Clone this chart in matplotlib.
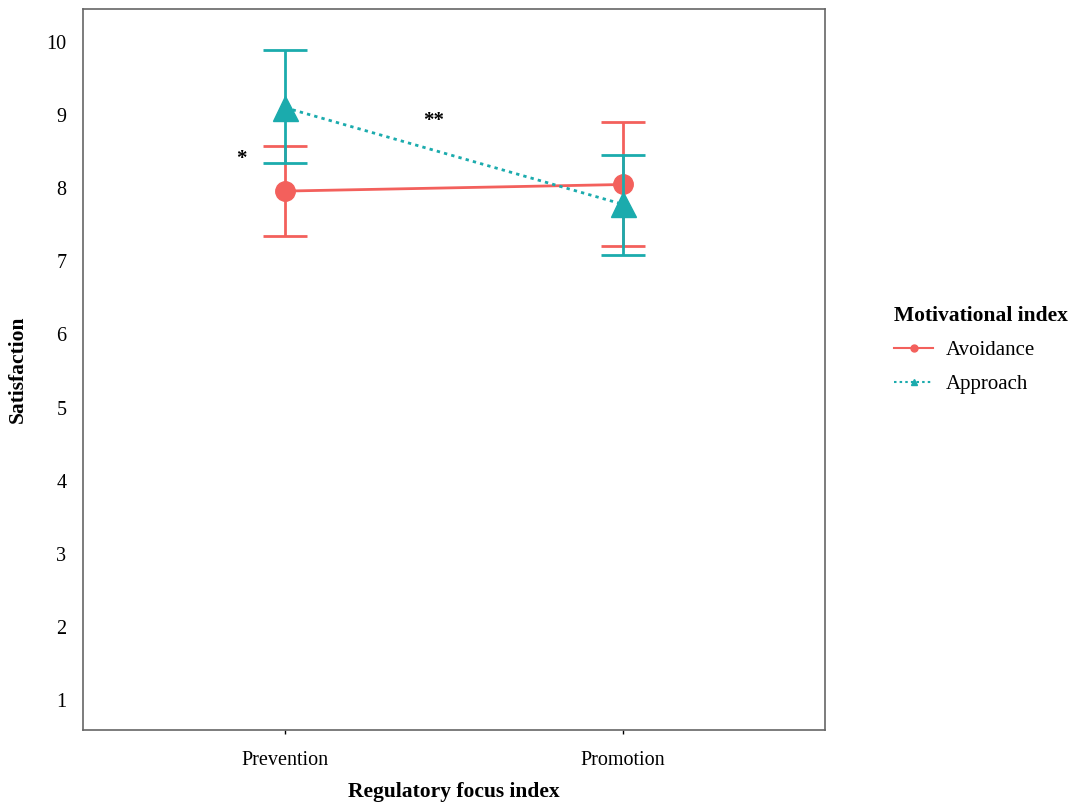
import matplotlib
matplotlib.use('Agg')
import matplotlib.pyplot as plt
from matplotlib.lines import Line2D

plt.rcParams['font.family'] = ['Liberation Serif', 'DejaVu Serif']

# dados
categories = ['Prevention', 'Promotion']
avoid_mean = [7.96, 8.05]
avoid_low = [7.34, 7.21]
avoid_high = [8.58, 8.90]
approach_mean = [9.10, 7.78]
approach_low = [8.34, 7.09]
approach_high = [9.89, 8.46]

RED = '#F3605C'
TEAL = '#1BABAD'

x = list(range(len(categories)))

fig = plt.figure(figsize=(10.72, 8.05), dpi=100)
ax = fig.add_axes([83/1072, 1-730/805, (825-83)/1072, (730-9)/805])

# avoidance (linha sólida, círculos)
err_av = [[m - l for m, l in zip(avoid_mean, avoid_low)],
          [h - m for m, h in zip(avoid_mean, avoid_high)]]
ax.errorbar(x, avoid_mean, yerr=err_av, color=RED, lw=2, marker='o', ms=14,
            capsize=16, capthick=2, elinewidth=2, zorder=3)

# approach (linha pontilhada, triângulos)
err_ap = [[m - l for m, l in zip(approach_mean, approach_low)],
          [h - m for m, h in zip(approach_mean, approach_high)]]
ax.errorbar(x, approach_mean, yerr=err_ap, color=TEAL, lw=2, marker='^', ms=18,
            ls=(0, (1.2, 1.5)), capsize=16, capthick=2, elinewidth=2, zorder=4)

# asteriscos de significância
ax.text(-0.13, 8.4, '*', fontsize=15, ha='center', va='center', fontweight='bold')
ax.text(0.44, 8.92, '**', fontsize=15, ha='center', va='center', fontweight='bold')

ax.set_xlim(-0.6, 1.6)
ax.set_ylim(0.59, 10.45)
ax.set_xticks(x)
ax.set_xticklabels(categories, fontsize=14.5)
ax.set_yticks(range(1, 11))
ax.tick_params(axis='both', labelsize=14.5, length=3, width=1, pad=12)
ax.tick_params(axis='y', length=0, pad=12)
for s in ax.spines.values():
    s.set_color('#666666')
    s.set_linewidth(1.2)

ax.set_xlabel('Regulatory focus index', fontsize=15.5, fontweight='bold', labelpad=9)
ax.set_ylabel('Satisfaction', fontsize=15.5, fontweight='bold')
ax.yaxis.set_label_coords(-55/742, 0.5)

handles = [
    Line2D([], [], color=RED, lw=1.5, marker='o', ms=5),
    Line2D([], [], color=TEAL, lw=1.5, ls=(0, (1.2, 1.5)), marker='^', ms=5),
]
leg = fig.legend(handles, ['Avoidance', 'Approach'], title='Motivational index',
                 loc='upper left', bbox_to_anchor=(875/1072, 1-287/805), frameon=False,
                 fontsize=15, title_fontproperties={'size': 15.5, 'weight': 'bold'},
                 handlelength=1.9, handletextpad=0.6, labelspacing=0.7)
leg._legend_box.align = 'left'

fig.savefig('out.png', dpi=100)
